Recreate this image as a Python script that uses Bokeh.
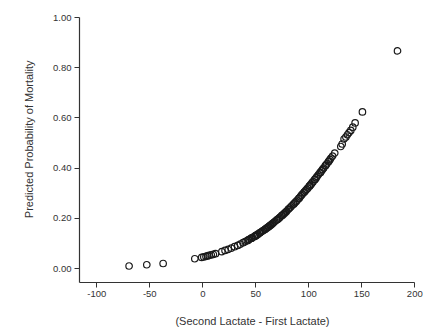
from bokeh.plotting import figure
from bokeh.models import FixedTicker, ColumnDataSource
from bokeh.embed import file_html
from bokeh.resources import INLINE

# (Second Lactate - First Lactate)
lactate_diff = [
    -69.5, -52.8, -37.4, -7.5, -1, 1, 3, 4.5, 6, 8, 10, 12,
    18, 21, 24, 27, 30, 33, 35.5, 38, 40, 42, 44, 45.5, 47, 48.5,
    50, 51, 52, 53.5, 55, 56, 57, 58.5, 60, 61, 62, 63.5, 65, 66, 67, 68,
    69.5, 71, 72, 73, 74.5, 76, 77, 78, 79, 80.5, 82, 83, 84, 85.5,
    87, 88, 89, 90.5, 92, 93, 94, 95.5, 97, 98, 99, 100.5, 102, 103, 104,
    105.5, 107, 108, 109, 110.5, 112, 113, 114, 115.5, 117, 118.5, 120,
    121, 122.5, 124.5, 130.2, 131.5, 133.3, 135, 136.5, 138, 139.6,
    141.5, 143.7, 150.6, 183.7,
    43, 46, 49.5, 54, 59, 62.5, 64, 70, 75, 81, 86, 91, 96, 101, 106,
    111, 116, 119,
]
# Predicted Probability of Mortality
pred_prob = [
    0.010, 0.015, 0.020, 0.039, 0.044, 0.046, 0.048, 0.050, 0.052, 0.054, 0.056, 0.059,
    0.067, 0.072, 0.076, 0.081, 0.087, 0.092, 0.097, 0.103, 0.107, 0.111, 0.116, 0.120, 0.123, 0.127,
    0.131, 0.134, 0.137, 0.141, 0.145, 0.148, 0.151, 0.155, 0.160, 0.163, 0.166, 0.171, 0.176, 0.180, 0.183, 0.187,
    0.192, 0.197, 0.201, 0.205, 0.211, 0.216, 0.220, 0.224, 0.228, 0.235, 0.241, 0.245, 0.250, 0.256,
    0.263, 0.267, 0.272, 0.279, 0.286, 0.291, 0.296, 0.303, 0.310, 0.315, 0.320, 0.328, 0.335, 0.341, 0.346,
    0.354, 0.362, 0.367, 0.373, 0.381, 0.389, 0.395, 0.400, 0.409, 0.417, 0.425, 0.434,
    0.440, 0.448, 0.460, 0.486, 0.496, 0.516, 0.524, 0.533, 0.541, 0.550,
    0.563, 0.580, 0.624, 0.867,
    0.114, 0.121, 0.130, 0.142, 0.157, 0.168, 0.173, 0.194, 0.212, 0.237, 0.258, 0.281, 0.305, 0.330, 0.356,
    0.383, 0.411, 0.428,
]

x_ticks = [-100, -50, 0, 50, 100, 150, 200]
x_tick_labels = ["-100", "-50", "0", "50", "100", "150", "200"]
y_ticks = [0.0, 0.2, 0.4, 0.6, 0.8, 1.0]
y_tick_labels = ["0.00", "0.20", "0.40", "0.60", "0.80", "1.00"]

src = ColumnDataSource(dict(x=lactate_diff, y=pred_prob))

p = figure(width=432, height=329, output_backend="svg", toolbar_location=None,
           x_range=(-116.3, 210.1), y_range=(-0.0557, 1.0),
           min_border_left=79, min_border_right=7, min_border_top=17, min_border_bottom=46)
p.outline_line_color = None
p.grid.visible = False
p.background_fill_color = "white"

p.scatter("x", "y", source=src, marker="circle", size=6.5, fill_color=None,
          line_color="#1a1a1a", line_width=1.2)

font = "Liberation Sans"
ax_col = "#333333"

xa = p.xaxis[0]
xa.ticker = FixedTicker(ticks=x_ticks)
xa.major_label_overrides = {t: l for t, l in zip(x_ticks, x_tick_labels)}
xa.bounds = (-116.3, 200)
xa.axis_label = "(Second Lactate - First Lactate)"
xa.axis_label_standoff = 15

ya = p.yaxis[0]
ya.ticker = FixedTicker(ticks=y_ticks)
ya.major_label_overrides = {t: l for t, l in zip(y_ticks, y_tick_labels)}
ya.bounds = (-0.0557, 1.0)
# leading no-break spaces nudge the centred title up, as in the reference
ya.axis_label = "\u00a0" * 7 + "Predicted Probability of Mortality"
ya.axis_label_standoff = 15

for ax in (xa, ya):
    ax.axis_line_color = ax_col
    ax.axis_line_width = 1.2
    ax.major_tick_line_color = ax_col
    ax.major_tick_in = 0
    ax.major_tick_out = 5
    ax.minor_tick_line_color = None
    ax.major_label_standoff = 3
    ax.major_label_text_font = font
    ax.major_label_text_font_size = "9.5px"
    ax.major_label_text_color = "#333333"
    ax.axis_label_text_font = font
    ax.axis_label_text_font_size = "11px"
    ax.axis_label_text_font_style = "normal"
    ax.axis_label_text_color = "#333333"

open("out.html", "w").write(file_html(p, INLINE))
